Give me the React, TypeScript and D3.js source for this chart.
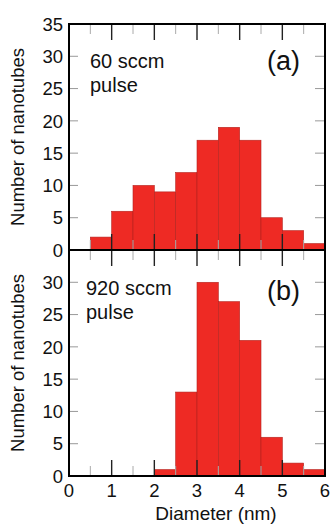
import React from "react";
import * as d3 from "d3";

const binStarts = [0, 0.5, 1, 1.5, 2, 2.5, 3, 3.5, 4, 4.5, 5, 5.5];
const binWidth = 0.5;
const countsA = [0, 2, 6, 10, 9, 12, 17, 19, 17, 5, 3, 1];
const countsB = [0, 0, 0, 0, 1, 13, 30, 27, 21, 6, 2, 1];
const xTicks = [0, 1, 2, 3, 4, 5, 6];
const xMinorTicks = [0.5, 1.5, 2.5, 3.5, 4.5, 5.5];
const yTicksA = [0, 5, 10, 15, 20, 25, 30, 35];
const yTicksB = [0, 5, 10, 15, 20, 25, 30];
const yGrid = [5, 10, 15, 20, 25, 30];

const W = 333;
const H = 524;
const left = 69;
const right = 325;
const FONT = "'Liberation Sans', Arial, sans-serif";
const RED = "#ee2a24";

function Panel({ top, bottom, counts, yTicks, name, label }: any) {
  const x = d3.scaleLinear().domain([0, 6]).range([left, right]);
  const y = d3.scaleLinear().domain([0, 35]).range([bottom, top]);
  return (
    <g>
      {counts.map((c: number, i: number) =>
        c > 0 ? (
          <rect
            key={i}
            x={x(binStarts[i])}
            y={y(c)}
            width={x(binStarts[i] + binWidth) - x(binStarts[i])}
            height={y(0) - y(c)}
            fill={RED}
            stroke="#b3241f"
            strokeWidth={0.6}
          />
        ) : null
      )}
      {yGrid.map((t) => (
        <g key={"yt" + t}>
          <line x1={left} x2={left + 9} y1={y(t)} y2={y(t)} stroke="#999" strokeWidth={1} />
          <line x1={right - 10} x2={right} y1={y(t)} y2={y(t)} stroke="#999" strokeWidth={1} />
        </g>
      ))}
      {xMinorTicks.map((t) => (
        <g key={"xm" + t}>
          <line x1={x(t)} x2={x(t)} y1={top} y2={top + 10} stroke="#aaa" strokeWidth={1} />
          <line x1={x(t)} x2={x(t)} y1={bottom} y2={bottom - 10} stroke="#aaa" strokeWidth={1} />
        </g>
      ))}
      {xTicks.slice(1, -1).map((t) => (
        <g key={"xM" + t}>
          <line x1={x(t)} x2={x(t)} y1={top} y2={top + 16} stroke="#222" strokeWidth={1.4} />
          <line x1={x(t)} x2={x(t)} y1={bottom} y2={bottom - 16} stroke="#222" strokeWidth={1.4} />
        </g>
      ))}
      <rect x={left} y={top} width={right - left} height={bottom - top} fill="none" stroke="#000" strokeWidth={2} />
      {yTicks.map((t: number) => (
        <text key={"yl" + t} x={63} y={y(t)} dy="0.36em" textAnchor="end" fontSize={18.5} fontFamily={FONT} fill="#111">
          {t}
        </text>
      ))}
      <text x={19} y={(top + bottom) / 2} transform={`rotate(-90 19 ${(top + bottom) / 2})`} textAnchor="middle" dominantBaseline="middle" fontSize={18.5} fontFamily={FONT} fill="#111">
        Number of nanotubes
      </text>
      <text x={label.x} y={label.y} fontSize={20} fontFamily={FONT} fill="#111">
        <tspan x={label.x} dy={0}>{label.l1}</tspan>
        <tspan x={label.x} dy={24}>pulse</tspan>
      </text>
      <text x={267} y={label.ny} fontSize={27} fontFamily={FONT} fill="#111">
        {name}
      </text>
    </g>
  );
}

export default function App() {
  const x = d3.scaleLinear().domain([0, 6]).range([left, right]);
  return (
    <svg width={W} height={H} style={{ position: "absolute", left: 0, top: 0, background: "#fff" }}>
      <Panel top={24} bottom={250} counts={countsA} yTicks={yTicksA} name="(a)" label={{ x: 90, y: 68, l1: "60 sccm", ny: 70 }} />
      <Panel top={250} bottom={476} counts={countsB} yTicks={yTicksB} name="(b)" label={{ x: 86, y: 295, l1: "920 sccm", ny: 300 }} />
      {xTicks.map((t) => (
        <text key={"xl" + t} x={x(t)} y={497} textAnchor="middle" fontSize={18.5} fontFamily={FONT} fill="#111">
          {t}
        </text>
      ))}
      <text x={216} y={520} textAnchor="middle" fontSize={19} fontFamily={FONT} fill="#111">
        Diameter (nm)
      </text>
    </svg>
  );
}
